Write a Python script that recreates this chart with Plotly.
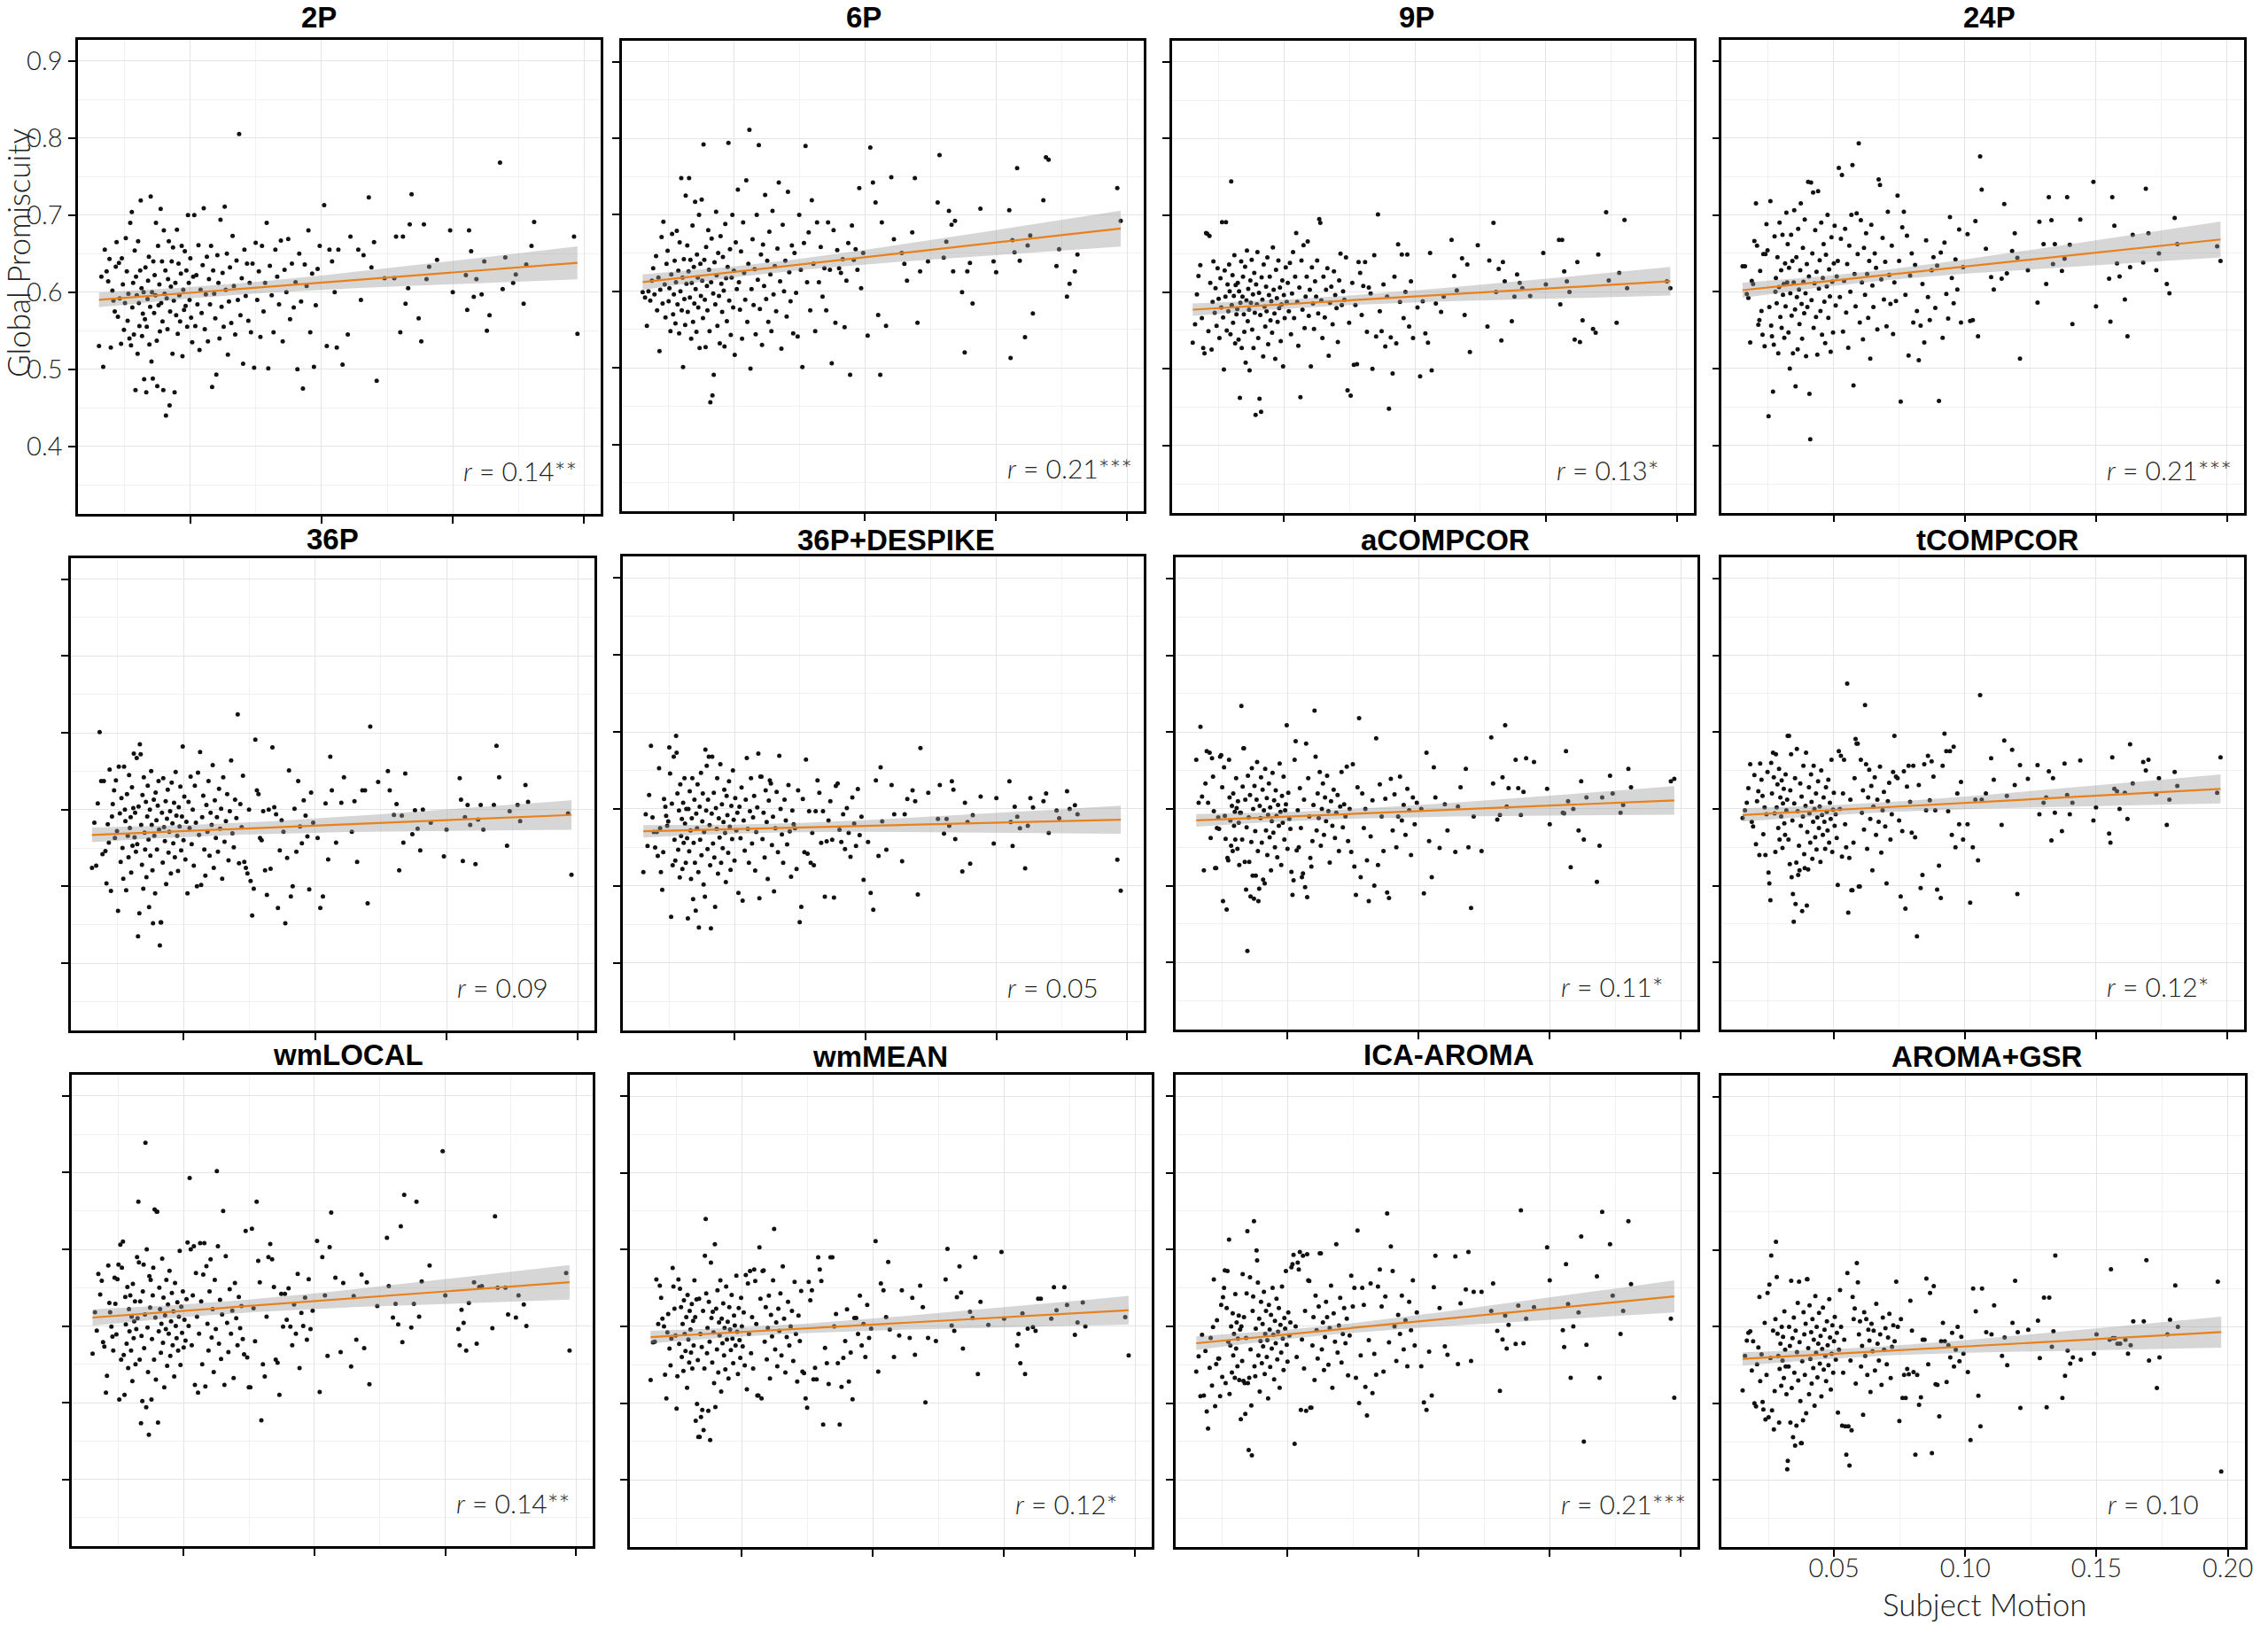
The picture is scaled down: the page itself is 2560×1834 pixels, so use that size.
import numpy as np
import plotly.graph_objects as go

W, H = 2560, 1834

PANELS = ["2P", "6P", "9P", "24P", "36P", "36P+DESPIKE", "aCOMPCOR", "tCOMPCOR",
          "wmLOCAL", "wmMEAN", "ICA-AROMA", "AROMA+GSR"]
R_LABELS = ["0.14**", "0.21***", "0.13*", "0.21***", "0.09", "0.05", "0.11*", "0.12*",
            "0.14**", "0.12*", "0.21***", "0.10"]

# Subject motion (shared by all pipelines), in x-order groups
MOTION_A = [0.0152, 0.0161, 0.0168, 0.0174, 0.0181, 0.0187, 0.0192, 0.0197, 0.0203, 0.0207,
            0.0212, 0.0216, 0.0219, 0.0224, 0.0228, 0.0231, 0.0236, 0.0239, 0.0243, 0.0247,
            0.0251, 0.0254, 0.0258, 0.0261, 0.0264, 0.0268, 0.0271, 0.0274, 0.0277, 0.0279,
            0.0282, 0.0285, 0.0288, 0.0291, 0.0293, 0.0296, 0.0299, 0.0301, 0.0304, 0.0306,
            0.0309, 0.0311, 0.0314, 0.0316, 0.0319]
MOTION_B = [0.0322, 0.0324, 0.0327, 0.0329, 0.0332, 0.0334, 0.0337, 0.0339, 0.0342, 0.0344,
            0.0347, 0.0349, 0.0352, 0.0354, 0.0357, 0.0359, 0.0362, 0.0364, 0.0367, 0.0369,
            0.0372, 0.0374, 0.0377, 0.0379, 0.0382, 0.0384, 0.0387, 0.0389, 0.0392, 0.0394,
            0.0397, 0.0399, 0.0402, 0.0405, 0.0407, 0.0410, 0.0413, 0.0415, 0.0418, 0.0421,
            0.0423, 0.0426, 0.0429, 0.0432, 0.0434, 0.0437, 0.0440, 0.0443, 0.0446, 0.0449,
            0.0452, 0.0455, 0.0458, 0.0461, 0.0464, 0.0467, 0.0470, 0.0473, 0.0476, 0.0479,
            0.0482, 0.0485, 0.0488, 0.0491, 0.0494, 0.0497, 0.0500, 0.0503, 0.0507, 0.0511]
MOTION_C = [0.0515, 0.0519, 0.0523, 0.0527, 0.0531, 0.0535, 0.0539, 0.0543, 0.0547, 0.0551,
            0.0555, 0.0559, 0.0563, 0.0567, 0.0571, 0.0575, 0.0579, 0.0583, 0.0587, 0.0591,
            0.0595, 0.0599, 0.0603, 0.0607, 0.0611, 0.0615, 0.0619, 0.0623, 0.0627, 0.0631,
            0.0635, 0.0639, 0.0643, 0.0647, 0.0651, 0.0656, 0.0661, 0.0666, 0.0671, 0.0676,
            0.0681, 0.0686, 0.0691, 0.0696, 0.0701, 0.0706, 0.0711, 0.0716, 0.0721, 0.0726]
MOTION_D = [0.0731, 0.0737, 0.0743, 0.0749, 0.0755, 0.0761, 0.0767, 0.0773, 0.0779, 0.0785,
            0.0791, 0.0797, 0.0803, 0.0810, 0.0817, 0.0824, 0.0831, 0.0838, 0.0845, 0.0852,
            0.0859, 0.0866, 0.0873, 0.0880, 0.0887, 0.0894, 0.0901, 0.0908, 0.0915, 0.0922,
            0.0929, 0.0936, 0.0943, 0.0950, 0.0957, 0.0964, 0.0971, 0.0978, 0.0985, 0.0993]
MOTION_E = [0.1010, 0.1020, 0.1030, 0.1040, 0.1050, 0.1058, 0.1064, 0.1080, 0.1100, 0.1110,
            0.1140, 0.1150, 0.1160, 0.1180, 0.1190, 0.1200, 0.1210, 0.1240, 0.1277, 0.1284,
            0.1300, 0.1310, 0.1320, 0.1330, 0.1336, 0.1343, 0.1370, 0.1380, 0.1390, 0.1400,
            0.1410, 0.1440, 0.1490, 0.1500, 0.1550]
MOTION_F = [0.1555, 0.1562, 0.1570, 0.1580, 0.1590, 0.1610, 0.1620, 0.1630, 0.1640, 0.1680,
            0.1690, 0.1700, 0.1730, 0.1740, 0.1770, 0.1780, 0.1800, 0.1810, 0.1962, 0.1975]
MOTION_GROUPS = [MOTION_A, MOTION_B, MOTION_C, MOTION_D, MOTION_E, MOTION_F]

# Global promiscuity per pipeline, same group order as motion
GP_2P = [
    [0.530, 0.620, 0.503, 0.655, 0.627, 0.614, 0.643, 0.528, 0.602, 0.589, 0.575, 0.633, 0.665, 0.568, 0.638, 0.592, 0.533, 0.644, 0.610, 0.551, 0.586, 0.670, 0.627, 0.563, 0.598, 0.540, 0.690, 0.531, 0.704, 0.580, 0.612, 0.545, 0.654, 0.473, 0.620, 0.596, 0.520, 0.666, 0.586, 0.556, 0.628, 0.719, 0.605, 0.543, 0.572],
    [0.600, 0.487, 0.565, 0.632, 0.470, 0.555, 0.591, 0.615, 0.646, 0.532, 0.581, 0.724, 0.510, 0.600, 0.488, 0.640, 0.573, 0.622, 0.596, 0.690, 0.537, 0.478, 0.660, 0.583, 0.610, 0.549, 0.708, 0.586, 0.640, 0.562, 0.473, 0.680, 0.598, 0.628, 0.440, 0.592, 0.552, 0.617, 0.666, 0.453, 0.575, 0.607, 0.640, 0.520, 0.658, 0.589, 0.470, 0.612, 0.570, 0.681, 0.546, 0.637, 0.596, 0.562, 0.624, 0.660, 0.517, 0.603, 0.577, 0.653, 0.582, 0.628, 0.555, 0.700, 0.612, 0.590, 0.644, 0.567, 0.535, 0.620],
    [0.700, 0.556, 0.622, 0.584, 0.661, 0.525, 0.603, 0.573, 0.635, 0.709, 0.552, 0.597, 0.646, 0.536, 0.617, 0.584, 0.660, 0.477, 0.628, 0.598, 0.566, 0.493, 0.648, 0.612, 0.540, 0.694, 0.581, 0.625, 0.555, 0.711, 0.603, 0.650, 0.519, 0.588, 0.632, 0.560, 0.673, 0.608, 0.545, 0.641, 0.590, 0.805, 0.570, 0.618, 0.507, 0.655, 0.595, 0.637, 0.563, 0.612],
    [0.548, 0.637, 0.502, 0.664, 0.590, 0.627, 0.542, 0.660, 0.575, 0.612, 0.690, 0.501, 0.634, 0.596, 0.548, 0.655, 0.620, 0.584, 0.667, 0.536, 0.629, 0.600, 0.669, 0.565, 0.637, 0.580, 0.613, 0.500, 0.650, 0.588, 0.475, 0.636, 0.608, 0.680, 0.548, 0.624, 0.503, 0.583, 0.630, 0.660],
    [0.713, 0.530, 0.655, 0.640, 0.600, 0.528, 0.655, 0.506, 0.545, 0.672, 0.655, 0.590, 0.648, 0.723, 0.632, 0.665, 0.485, 0.618, 0.618, 0.672, 0.548, 0.672, 0.585, 0.605, 0.688, 0.727, 0.566, 0.536, 0.688, 0.617, 0.633, 0.642, 0.680, 0.600, 0.622],
    [0.577, 0.680, 0.653, 0.594, 0.617, 0.597, 0.640, 0.550, 0.570, 0.768, 0.604, 0.645, 0.612, 0.623, 0.585, 0.636, 0.660, 0.691, 0.672, 0.546],
]
GP_6P = [
    [0.599, 0.592, 0.555, 0.600, 0.588, 0.614, 0.630, 0.596, 0.646, 0.575, 0.618, 0.522, 0.602, 0.671, 0.584, 0.691, 0.609, 0.566, 0.636, 0.653, 0.587, 0.604, 0.548, 0.622, 0.675, 0.570, 0.596, 0.640, 0.558, 0.612, 0.679, 0.583, 0.627, 0.545, 0.664, 0.600, 0.748, 0.575, 0.618, 0.501, 0.642, 0.590, 0.556, 0.725, 0.610],
    [0.660, 0.573, 0.626, 0.748, 0.592, 0.641, 0.538, 0.611, 0.686, 0.560, 0.632, 0.584, 0.717, 0.603, 0.547, 0.648, 0.618, 0.579, 0.700, 0.526, 0.636, 0.594, 0.720, 0.614, 0.565, 0.792, 0.641, 0.589, 0.527, 0.658, 0.607, 0.575, 0.680, 0.628, 0.548, 0.455, 0.612, 0.669, 0.464, 0.597, 0.491, 0.638, 0.583, 0.704, 0.621, 0.555, 0.650, 0.594, 0.532, 0.672, 0.610, 0.573, 0.645, 0.601, 0.528, 0.688, 0.617, 0.561, 0.632, 0.794, 0.588, 0.655, 0.543, 0.618, 0.700, 0.579, 0.627, 0.517, 0.664, 0.603],
    [0.733, 0.612, 0.576, 0.652, 0.538, 0.690, 0.624, 0.589, 0.745, 0.560, 0.636, 0.811, 0.499, 0.603, 0.668, 0.582, 0.629, 0.544, 0.700, 0.615, 0.791, 0.577, 0.648, 0.530, 0.661, 0.607, 0.726, 0.590, 0.640, 0.560, 0.678, 0.622, 0.548, 0.705, 0.596, 0.633, 0.574, 0.656, 0.742, 0.613, 0.525, 0.687, 0.600, 0.640, 0.567, 0.730, 0.625, 0.587, 0.660, 0.545],
    [0.650, 0.598, 0.541, 0.700, 0.628, 0.501, 0.663, 0.790, 0.612, 0.677, 0.575, 0.719, 0.636, 0.548, 0.690, 0.612, 0.658, 0.593, 0.630, 0.575, 0.690, 0.628, 0.506, 0.680, 0.559, 0.654, 0.630, 0.624, 0.642, 0.553, 0.614, 0.663, 0.491, 0.686, 0.641, 0.655, 0.628, 0.735, 0.604, 0.650],
    [0.542, 0.788, 0.742, 0.716, 0.569, 0.491, 0.690, 0.555, 0.749, 0.668, 0.650, 0.636, 0.614, 0.677, 0.748, 0.559, 0.626, 0.639, 0.716, 0.778, 0.644, 0.665, 0.705, 0.687, 0.626, 0.692, 0.599, 0.520, 0.626, 0.637, 0.584, 0.708, 0.639, 0.625, 0.706],
    [0.513, 0.667, 0.651, 0.761, 0.640, 0.540, 0.660, 0.673, 0.571, 0.719, 0.775, 0.772, 0.633, 0.655, 0.593, 0.610, 0.626, 0.648, 0.735, 0.692],
]
GP_9P = [
    [0.534, 0.558, 0.597, 0.621, 0.635, 0.566, 0.527, 0.520, 0.677, 0.676, 0.549, 0.673, 0.612, 0.525, 0.587, 0.640, 0.573, 0.605, 0.556, 0.631, 0.591, 0.540, 0.618, 0.580, 0.691, 0.567, 0.499, 0.628, 0.594, 0.691, 0.550, 0.610, 0.575, 0.636, 0.601, 0.545, 0.744, 0.583, 0.622, 0.560, 0.595, 0.648, 0.533, 0.609, 0.571],
    [0.578, 0.612, 0.538, 0.601, 0.462, 0.586, 0.640, 0.527, 0.594, 0.620, 0.571, 0.548, 0.633, 0.508, 0.589, 0.654, 0.562, 0.604, 0.577, 0.498, 0.615, 0.586, 0.642, 0.551, 0.597, 0.527, 0.625, 0.573, 0.440, 0.610, 0.584, 0.652, 0.540, 0.599, 0.461, 0.570, 0.444, 0.619, 0.590, 0.516, 0.636, 0.581, 0.555, 0.607, 0.575, 0.645, 0.532, 0.596, 0.620, 0.563, 0.588, 0.547, 0.658, 0.603, 0.572, 0.513, 0.629, 0.592, 0.561, 0.641, 0.579, 0.606, 0.536, 0.584, 0.615, 0.503, 0.596, 0.566, 0.632, 0.587],
    [0.612, 0.575, 0.638, 0.545, 0.598, 0.652, 0.566, 0.620, 0.677, 0.587, 0.530, 0.606, 0.463, 0.641, 0.577, 0.661, 0.553, 0.594, 0.620, 0.666, 0.569, 0.603, 0.503, 0.632, 0.585, 0.552, 0.614, 0.594, 0.641, 0.572, 0.695, 0.690, 0.589, 0.540, 0.620, 0.567, 0.603, 0.631, 0.517, 0.586, 0.607, 0.558, 0.627, 0.596, 0.579, 0.535, 0.615, 0.650, 0.583, 0.601],
    [0.590, 0.645, 0.472, 0.560, 0.465, 0.612, 0.505, 0.583, 0.506, 0.639, 0.625, 0.570, 0.608, 0.639, 0.548, 0.606, 0.598, 0.500, 0.648, 0.542, 0.701, 0.575, 0.549, 0.610, 0.529, 0.594, 0.448, 0.541, 0.494, 0.620, 0.533, 0.662, 0.587, 0.649, 0.566, 0.600, 0.649, 0.555, 0.614, 0.540],
    [0.580, 0.490, 0.588, 0.546, 0.534, 0.651, 0.498, 0.585, 0.574, 0.594, 0.668, 0.621, 0.602, 0.644, 0.570, 0.636, 0.522, 0.661, 0.555, 0.641, 0.690, 0.600, 0.630, 0.537, 0.639, 0.614, 0.562, 0.594, 0.623, 0.612, 0.605, 0.595, 0.651, 0.610, 0.668],
    [0.584, 0.668, 0.627, 0.614, 0.600, 0.538, 0.639, 0.535, 0.563, 0.552, 0.547, 0.649, 0.704, 0.615, 0.560, 0.625, 0.694, 0.605, 0.614, 0.605],
]
GP_24P = [
    [0.633, 0.633, 0.597, 0.592, 0.534, 0.614, 0.610, 0.666, 0.715, 0.660, 0.557, 0.563, 0.627, 0.575, 0.544, 0.649, 0.529, 0.649, 0.688, 0.654, 0.438, 0.580, 0.718, 0.556, 0.542, 0.470, 0.531, 0.672, 0.600, 0.618, 0.585, 0.645, 0.520, 0.606, 0.690, 0.567, 0.628, 0.553, 0.674, 0.596, 0.610, 0.540, 0.637, 0.581, 0.703],
    [0.612, 0.662, 0.547, 0.631, 0.500, 0.598, 0.674, 0.569, 0.640, 0.520, 0.612, 0.706, 0.577, 0.477, 0.645, 0.593, 0.525, 0.682, 0.603, 0.558, 0.628, 0.715, 0.584, 0.539, 0.657, 0.613, 0.572, 0.694, 0.598, 0.516, 0.636, 0.580, 0.743, 0.620, 0.467, 0.408, 0.742, 0.589, 0.650, 0.729, 0.553, 0.611, 0.680, 0.567, 0.626, 0.518, 0.731, 0.604, 0.641, 0.575, 0.690, 0.544, 0.618, 0.662, 0.587, 0.533, 0.648, 0.607, 0.700, 0.566, 0.629, 0.594, 0.522, 0.671, 0.613, 0.547, 0.637, 0.686, 0.582, 0.620],
    [0.640, 0.761, 0.593, 0.669, 0.752, 0.548, 0.614, 0.682, 0.573, 0.636, 0.527, 0.660, 0.600, 0.700, 0.765, 0.478, 0.623, 0.581, 0.702, 0.649, 0.793, 0.560, 0.693, 0.612, 0.538, 0.657, 0.596, 0.676, 0.623, 0.566, 0.640, 0.513, 0.687, 0.608, 0.580, 0.650, 0.631, 0.551, 0.746, 0.739, 0.616, 0.670, 0.590, 0.639, 0.555, 0.704, 0.622, 0.584, 0.660, 0.545],
    [0.612, 0.588, 0.725, 0.640, 0.457, 0.684, 0.704, 0.596, 0.673, 0.517, 0.621, 0.650, 0.560, 0.635, 0.575, 0.511, 0.556, 0.610, 0.534, 0.667, 0.593, 0.563, 0.628, 0.645, 0.579, 0.634, 0.458, 0.651, 0.540, 0.664, 0.597, 0.565, 0.697, 0.618, 0.585, 0.642, 0.603, 0.681, 0.560, 0.632],
    [0.675, 0.562, 0.563, 0.692, 0.542, 0.776, 0.733, 0.656, 0.619, 0.603, 0.617, 0.714, 0.624, 0.653, 0.676, 0.644, 0.513, 0.628, 0.586, 0.691, 0.662, 0.610, 0.723, 0.693, 0.636, 0.662, 0.627, 0.643, 0.723, 0.661, 0.558, 0.694, 0.743, 0.581, 0.617],
    [0.561, 0.723, 0.686, 0.637, 0.620, 0.590, 0.542, 0.632, 0.674, 0.638, 0.734, 0.676, 0.628, 0.650, 0.610, 0.598, 0.696, 0.662, 0.659, 0.640],
]
GP_36P = [
    [0.524, 0.583, 0.527, 0.608, 0.701, 0.637, 0.542, 0.637, 0.546, 0.504, 0.581, 0.557, 0.652, 0.494, 0.591, 0.607, 0.625, 0.563, 0.638, 0.572, 0.468, 0.656, 0.595, 0.532, 0.615, 0.550, 0.510, 0.656, 0.600, 0.585, 0.495, 0.620, 0.566, 0.538, 0.645, 0.576, 0.590, 0.518, 0.629, 0.553, 0.602, 0.673, 0.564, 0.596, 0.545],
    [0.667, 0.555, 0.435, 0.604, 0.465, 0.685, 0.672, 0.580, 0.528, 0.619, 0.497, 0.642, 0.570, 0.548, 0.610, 0.512, 0.591, 0.631, 0.561, 0.473, 0.600, 0.540, 0.650, 0.580, 0.521, 0.452, 0.613, 0.566, 0.491, 0.622, 0.586, 0.548, 0.605, 0.637, 0.574, 0.423, 0.453, 0.453, 0.596, 0.531, 0.641, 0.577, 0.559, 0.611, 0.503, 0.588, 0.626, 0.544, 0.571, 0.598, 0.517, 0.635, 0.582, 0.556, 0.609, 0.538, 0.649, 0.592, 0.566, 0.520, 0.603, 0.578, 0.630, 0.547, 0.591, 0.682, 0.560, 0.617, 0.535, 0.584],
    [0.491, 0.610, 0.576, 0.643, 0.555, 0.600, 0.527, 0.631, 0.583, 0.500, 0.648, 0.567, 0.675, 0.502, 0.590, 0.618, 0.548, 0.514, 0.606, 0.571, 0.637, 0.540, 0.596, 0.580, 0.658, 0.524, 0.612, 0.563, 0.590, 0.545, 0.627, 0.575, 0.601, 0.510, 0.642, 0.558, 0.585, 0.620, 0.534, 0.598, 0.664, 0.569, 0.551, 0.613, 0.589, 0.724, 0.530, 0.607, 0.577, 0.644],
    [0.532, 0.524, 0.517, 0.600, 0.507, 0.462, 0.497, 0.691, 0.625, 0.620, 0.563, 0.560, 0.598, 0.521, 0.489, 0.600, 0.523, 0.681, 0.603, 0.594, 0.472, 0.547, 0.586, 0.571, 0.452, 0.537, 0.651, 0.487, 0.500, 0.601, 0.545, 0.637, 0.578, 0.556, 0.612, 0.592, 0.565, 0.496, 0.622, 0.583],
    [0.563, 0.472, 0.487, 0.608, 0.535, 0.669, 0.625, 0.557, 0.609, 0.642, 0.571, 0.611, 0.532, 0.625, 0.625, 0.478, 0.708, 0.636, 0.650, 0.625, 0.593, 0.607, 0.521, 0.592, 0.557, 0.647, 0.568, 0.599, 0.575, 0.547, 0.600, 0.583, 0.539, 0.574, 0.641],
    [0.613, 0.533, 0.590, 0.606, 0.580, 0.529, 0.587, 0.606, 0.574, 0.606, 0.683, 0.642, 0.553, 0.598, 0.606, 0.585, 0.632, 0.610, 0.595, 0.515],
]
GP_36P_DESPIKE = [
    [0.518, 0.593, 0.552, 0.618, 0.682, 0.589, 0.570, 0.550, 0.570, 0.539, 0.653, 0.575, 0.518, 0.495, 0.544, 0.613, 0.603, 0.591, 0.578, 0.584, 0.680, 0.646, 0.460, 0.607, 0.527, 0.668, 0.560, 0.533, 0.695, 0.673, 0.620, 0.547, 0.598, 0.511, 0.632, 0.565, 0.587, 0.522, 0.608, 0.556, 0.640, 0.581, 0.530, 0.600, 0.562],
    [0.458, 0.600, 0.545, 0.623, 0.572, 0.509, 0.588, 0.640, 0.483, 0.556, 0.612, 0.530, 0.468, 0.594, 0.575, 0.632, 0.518, 0.446, 0.603, 0.560, 0.647, 0.540, 0.584, 0.620, 0.502, 0.570, 0.486, 0.677, 0.598, 0.656, 0.548, 0.612, 0.668, 0.579, 0.527, 0.445, 0.594, 0.668, 0.555, 0.621, 0.537, 0.473, 0.601, 0.574, 0.640, 0.516, 0.588, 0.563, 0.658, 0.530, 0.606, 0.549, 0.583, 0.625, 0.569, 0.505, 0.617, 0.592, 0.543, 0.636, 0.577, 0.521, 0.604, 0.561, 0.650, 0.586, 0.533, 0.614, 0.572, 0.595],
    [0.491, 0.603, 0.562, 0.628, 0.481, 0.585, 0.546, 0.612, 0.666, 0.574, 0.530, 0.597, 0.640, 0.555, 0.589, 0.617, 0.520, 0.570, 0.602, 0.672, 0.484, 0.642, 0.642, 0.561, 0.595, 0.537, 0.624, 0.583, 0.509, 0.611, 0.637, 0.633, 0.553, 0.590, 0.493, 0.575, 0.622, 0.544, 0.669, 0.600, 0.567, 0.530, 0.612, 0.585, 0.554, 0.631, 0.571, 0.512, 0.598, 0.580],
    [0.575, 0.522, 0.624, 0.453, 0.473, 0.613, 0.544, 0.664, 0.542, 0.597, 0.530, 0.569, 0.527, 0.597, 0.637, 0.621, 0.556, 0.597, 0.486, 0.558, 0.585, 0.610, 0.560, 0.485, 0.630, 0.633, 0.573, 0.557, 0.593, 0.548, 0.601, 0.569, 0.538, 0.615, 0.581, 0.552, 0.626, 0.566, 0.590, 0.508],
    [0.557, 0.491, 0.469, 0.637, 0.539, 0.654, 0.584, 0.547, 0.631, 0.593, 0.532, 0.593, 0.613, 0.624, 0.610, 0.489, 0.679, 0.621, 0.587, 0.631, 0.568, 0.587, 0.578, 0.636, 0.625, 0.561, 0.519, 0.608, 0.583, 0.529, 0.592, 0.616, 0.555, 0.614, 0.636],
    [0.583, 0.552, 0.603, 0.590, 0.575, 0.523, 0.578, 0.614, 0.602, 0.610, 0.620, 0.569, 0.598, 0.588, 0.623, 0.600, 0.605, 0.593, 0.534, 0.494],
]
GP_ACOMPCOR = [
    [0.664, 0.608, 0.707, 0.616, 0.520, 0.633, 0.675, 0.608, 0.673, 0.562, 0.666, 0.642, 0.597, 0.523, 0.523, 0.575, 0.589, 0.574, 0.668, 0.670, 0.628, 0.480, 0.654, 0.591, 0.561, 0.469, 0.536, 0.533, 0.664, 0.615, 0.585, 0.552, 0.604, 0.545, 0.620, 0.578, 0.596, 0.560, 0.640, 0.601, 0.548, 0.610, 0.582, 0.527, 0.595],
    [0.595, 0.734, 0.560, 0.629, 0.679, 0.679, 0.531, 0.612, 0.495, 0.576, 0.415, 0.643, 0.589, 0.531, 0.618, 0.486, 0.557, 0.653, 0.513, 0.600, 0.483, 0.630, 0.571, 0.513, 0.612, 0.661, 0.545, 0.480, 0.496, 0.604, 0.588, 0.641, 0.556, 0.625, 0.508, 0.598, 0.503, 0.652, 0.572, 0.614, 0.540, 0.592, 0.633, 0.563, 0.602, 0.520, 0.584, 0.647, 0.569, 0.611, 0.550, 0.624, 0.591, 0.537, 0.605, 0.578, 0.659, 0.596, 0.527, 0.617, 0.582, 0.642, 0.560, 0.598, 0.606, 0.709, 0.548, 0.621, 0.587, 0.574],
    [0.518, 0.488, 0.507, 0.664, 0.688, 0.546, 0.598, 0.550, 0.627, 0.575, 0.511, 0.516, 0.612, 0.498, 0.685, 0.485, 0.640, 0.590, 0.536, 0.525, 0.558, 0.605, 0.728, 0.668, 0.572, 0.620, 0.588, 0.648, 0.552, 0.600, 0.633, 0.566, 0.615, 0.584, 0.643, 0.597, 0.530, 0.610, 0.578, 0.625, 0.562, 0.595, 0.618, 0.545, 0.603, 0.648, 0.576, 0.606, 0.590, 0.655],
    [0.558, 0.600, 0.544, 0.658, 0.525, 0.488, 0.628, 0.718, 0.511, 0.620, 0.575, 0.600, 0.533, 0.480, 0.564, 0.611, 0.500, 0.692, 0.527, 0.632, 0.590, 0.545, 0.613, 0.491, 0.484, 0.639, 0.572, 0.619, 0.550, 0.590, 0.642, 0.585, 0.605, 0.566, 0.626, 0.598, 0.540, 0.615, 0.580, 0.608],
    [0.600, 0.490, 0.673, 0.558, 0.511, 0.654, 0.615, 0.549, 0.606, 0.572, 0.544, 0.603, 0.628, 0.652, 0.550, 0.471, 0.590, 0.545, 0.693, 0.633, 0.586, 0.592, 0.641, 0.709, 0.603, 0.627, 0.664, 0.627, 0.592, 0.622, 0.666, 0.661, 0.626, 0.580, 0.595],
    [0.594, 0.675, 0.610, 0.524, 0.600, 0.572, 0.636, 0.560, 0.615, 0.505, 0.552, 0.615, 0.643, 0.620, 0.595, 0.605, 0.652, 0.628, 0.636, 0.639],
]
GP_TCOMPCOR = [
    [0.588, 0.598, 0.608, 0.627, 0.658, 0.583, 0.577, 0.644, 0.554, 0.610, 0.623, 0.540, 0.659, 0.638, 0.617, 0.567, 0.602, 0.540, 0.593, 0.648, 0.517, 0.503, 0.481, 0.660, 0.620, 0.673, 0.641, 0.594, 0.544, 0.671, 0.602, 0.632, 0.575, 0.652, 0.560, 0.615, 0.590, 0.637, 0.549, 0.607, 0.626, 0.581, 0.566, 0.645, 0.598],
    [0.612, 0.695, 0.560, 0.695, 0.528, 0.624, 0.671, 0.511, 0.585, 0.489, 0.453, 0.607, 0.640, 0.476, 0.530, 0.678, 0.597, 0.514, 0.552, 0.520, 0.633, 0.578, 0.616, 0.467, 0.590, 0.656, 0.541, 0.523, 0.604, 0.673, 0.474, 0.570, 0.521, 0.628, 0.594, 0.556, 0.645, 0.609, 0.535, 0.583, 0.656, 0.600, 0.563, 0.620, 0.547, 0.589, 0.636, 0.575, 0.603, 0.531, 0.650, 0.592, 0.566, 0.615, 0.583, 0.548, 0.628, 0.596, 0.572, 0.638, 0.556, 0.608, 0.587, 0.664, 0.544, 0.599, 0.621, 0.578, 0.593, 0.562],
    [0.501, 0.675, 0.600, 0.669, 0.538, 0.620, 0.664, 0.580, 0.550, 0.763, 0.465, 0.536, 0.612, 0.494, 0.494, 0.556, 0.640, 0.691, 0.685, 0.685, 0.499, 0.499, 0.664, 0.595, 0.624, 0.573, 0.735, 0.658, 0.548, 0.615, 0.651, 0.587, 0.630, 0.520, 0.603, 0.641, 0.566, 0.612, 0.583, 0.655, 0.543, 0.598, 0.622, 0.577, 0.503, 0.610, 0.634, 0.560, 0.593, 0.648],
    [0.695, 0.642, 0.640, 0.585, 0.486, 0.571, 0.649, 0.470, 0.629, 0.656, 0.609, 0.569, 0.656, 0.563, 0.434, 0.631, 0.497, 0.514, 0.658, 0.598, 0.669, 0.611, 0.662, 0.642, 0.598, 0.495, 0.526, 0.484, 0.656, 0.698, 0.675, 0.597, 0.675, 0.566, 0.681, 0.550, 0.620, 0.580, 0.635, 0.560],
    [0.580, 0.478, 0.550, 0.612, 0.533, 0.748, 0.612, 0.620, 0.666, 0.638, 0.579, 0.689, 0.617, 0.677, 0.631, 0.489, 0.657, 0.639, 0.657, 0.593, 0.608, 0.615, 0.649, 0.559, 0.640, 0.595, 0.571, 0.659, 0.618, 0.593, 0.608, 0.663, 0.585, 0.602, 0.568],
    [0.556, 0.667, 0.626, 0.623, 0.600, 0.621, 0.587, 0.684, 0.633, 0.661, 0.650, 0.664, 0.619, 0.640, 0.579, 0.612, 0.648, 0.630, 0.621, 0.667],
]
GP_WMLOCAL = [
    [0.564, 0.618, 0.594, 0.668, 0.641, 0.659, 0.579, 0.573, 0.513, 0.535, 0.679, 0.630, 0.618, 0.599, 0.586, 0.568, 0.663, 0.629, 0.589, 0.661, 0.680, 0.504, 0.706, 0.556, 0.676, 0.710, 0.562, 0.510, 0.638, 0.602, 0.577, 0.651, 0.545, 0.622, 0.593, 0.640, 0.568, 0.612, 0.528, 0.655, 0.584, 0.606, 0.632, 0.550, 0.596],
    [0.690, 0.610, 0.762, 0.683, 0.556, 0.632, 0.473, 0.587, 0.502, 0.645, 0.680, 0.571, 0.615, 0.839, 0.494, 0.700, 0.598, 0.540, 0.458, 0.665, 0.624, 0.660, 0.504, 0.583, 0.640, 0.676, 0.556, 0.752, 0.611, 0.530, 0.749, 0.749, 0.474, 0.593, 0.650, 0.622, 0.565, 0.603, 0.688, 0.578, 0.637, 0.520, 0.614, 0.596, 0.660, 0.548, 0.628, 0.590, 0.672, 0.561, 0.606, 0.643, 0.575, 0.619, 0.534, 0.656, 0.600, 0.584, 0.631, 0.568, 0.612, 0.698, 0.549, 0.625, 0.591, 0.645, 0.572, 0.608, 0.581, 0.635],
    [0.709, 0.600, 0.793, 0.700, 0.575, 0.640, 0.704, 0.523, 0.669, 0.612, 0.513, 0.590, 0.708, 0.632, 0.550, 0.667, 0.708, 0.521, 0.678, 0.603, 0.568, 0.645, 0.687, 0.585, 0.622, 0.540, 0.660, 0.596, 0.802, 0.704, 0.577, 0.634, 0.557, 0.615, 0.750, 0.523, 0.691, 0.604, 0.566, 0.648, 0.590, 0.620, 0.532, 0.656, 0.610, 0.575, 0.638, 0.597, 0.626, 0.583],
    [0.563, 0.724, 0.559, 0.520, 0.520, 0.727, 0.623, 0.580, 0.762, 0.685, 0.657, 0.477, 0.550, 0.534, 0.612, 0.690, 0.707, 0.687, 0.651, 0.556, 0.552, 0.510, 0.642, 0.599, 0.642, 0.608, 0.649, 0.599, 0.575, 0.628, 0.590, 0.668, 0.545, 0.617, 0.600, 0.637, 0.582, 0.661, 0.596, 0.620],
    [0.711, 0.514, 0.690, 0.640, 0.561, 0.703, 0.748, 0.663, 0.566, 0.656, 0.547, 0.639, 0.582, 0.667, 0.571, 0.657, 0.524, 0.626, 0.715, 0.652, 0.611, 0.629, 0.602, 0.730, 0.579, 0.771, 0.598, 0.629, 0.762, 0.612, 0.658, 0.679, 0.828, 0.640, 0.596],
    [0.575, 0.621, 0.604, 0.568, 0.630, 0.657, 0.577, 0.651, 0.652, 0.597, 0.743, 0.650, 0.650, 0.615, 0.611, 0.640, 0.628, 0.600, 0.669, 0.568],
]
GP_WMMEAN = [
    [0.530, 0.579, 0.580, 0.661, 0.603, 0.653, 0.637, 0.610, 0.600, 0.537, 0.506, 0.592, 0.616, 0.571, 0.549, 0.584, 0.676, 0.652, 0.623, 0.588, 0.493, 0.535, 0.661, 0.577, 0.649, 0.625, 0.560, 0.603, 0.542, 0.634, 0.590, 0.568, 0.612, 0.520, 0.641, 0.583, 0.553, 0.620, 0.596, 0.566, 0.629, 0.545, 0.607, 0.575, 0.660],
    [0.612, 0.477, 0.635, 0.499, 0.556, 0.456, 0.636, 0.456, 0.590, 0.482, 0.573, 0.491, 0.620, 0.465, 0.545, 0.692, 0.740, 0.643, 0.565, 0.598, 0.490, 0.632, 0.580, 0.452, 0.683, 0.611, 0.553, 0.619, 0.592, 0.526, 0.707, 0.495, 0.623, 0.570, 0.647, 0.540, 0.605, 0.588, 0.660, 0.515, 0.610, 0.578, 0.630, 0.562, 0.598, 0.544, 0.652, 0.583, 0.606, 0.532, 0.625, 0.596, 0.569, 0.641, 0.584, 0.552, 0.614, 0.601, 0.575, 0.666, 0.593, 0.538, 0.624, 0.582, 0.559, 0.637, 0.600, 0.574, 0.618, 0.549],
    [0.667, 0.518, 0.656, 0.590, 0.672, 0.565, 0.612, 0.545, 0.674, 0.659, 0.603, 0.510, 0.510, 0.703, 0.636, 0.506, 0.672, 0.673, 0.580, 0.625, 0.557, 0.598, 0.640, 0.532, 0.615, 0.587, 0.660, 0.727, 0.570, 0.605, 0.548, 0.623, 0.594, 0.643, 0.562, 0.678, 0.610, 0.540, 0.586, 0.632, 0.575, 0.600, 0.620, 0.555, 0.658, 0.590, 0.528, 0.614, 0.581, 0.646],
    [0.541, 0.539, 0.506, 0.494, 0.658, 0.634, 0.647, 0.531, 0.546, 0.531, 0.690, 0.674, 0.659, 0.472, 0.572, 0.552, 0.525, 0.690, 0.690, 0.600, 0.616, 0.552, 0.472, 0.521, 0.559, 0.581, 0.622, 0.528, 0.566, 0.505, 0.611, 0.611, 0.590, 0.640, 0.575, 0.603, 0.560, 0.628, 0.585, 0.597],
    [0.711, 0.541, 0.656, 0.647, 0.612, 0.684, 0.596, 0.560, 0.588, 0.647, 0.585, 0.637, 0.563, 0.653, 0.625, 0.501, 0.585, 0.581, 0.661, 0.701, 0.601, 0.594, 0.638, 0.678, 0.644, 0.571, 0.619, 0.611, 0.690, 0.538, 0.632, 0.602, 0.697, 0.610, 0.575],
    [0.590, 0.552, 0.617, 0.538, 0.597, 0.599, 0.594, 0.636, 0.636, 0.610, 0.651, 0.621, 0.651, 0.628, 0.589, 0.605, 0.631, 0.600, 0.612, 0.562],
]
GP_ICA_AROMA = [
    [0.541, 0.561, 0.509, 0.589, 0.510, 0.568, 0.489, 0.467, 0.546, 0.585, 0.523, 0.599, 0.661, 0.496, 0.551, 0.608, 0.558, 0.558, 0.509, 0.628, 0.534, 0.638, 0.650, 0.673, 0.526, 0.624, 0.672, 0.580, 0.713, 0.512, 0.575, 0.600, 0.540, 0.617, 0.562, 0.590, 0.533, 0.642, 0.571, 0.605, 0.548, 0.584, 0.614, 0.530, 0.596],
    [0.479, 0.600, 0.555, 0.668, 0.529, 0.612, 0.526, 0.486, 0.585, 0.643, 0.724, 0.526, 0.439, 0.533, 0.664, 0.570, 0.497, 0.432, 0.620, 0.639, 0.737, 0.548, 0.535, 0.597, 0.699, 0.686, 0.657, 0.562, 0.610, 0.515, 0.581, 0.632, 0.552, 0.603, 0.574, 0.645, 0.538, 0.590, 0.620, 0.560, 0.582, 0.506, 0.628, 0.596, 0.547, 0.615, 0.571, 0.650, 0.589, 0.531, 0.607, 0.578, 0.636, 0.557, 0.593, 0.624, 0.520, 0.602, 0.566, 0.652, 0.584, 0.543, 0.611, 0.597, 0.672, 0.576, 0.554, 0.618, 0.588, 0.605],
    [0.677, 0.681, 0.693, 0.447, 0.600, 0.560, 0.683, 0.674, 0.697, 0.491, 0.583, 0.692, 0.545, 0.620, 0.490, 0.694, 0.660, 0.659, 0.494, 0.494, 0.575, 0.612, 0.530, 0.640, 0.595, 0.558, 0.626, 0.695, 0.695, 0.570, 0.605, 0.543, 0.586, 0.632, 0.612, 0.550, 0.598, 0.653, 0.520, 0.617, 0.580, 0.707, 0.566, 0.601, 0.637, 0.553, 0.590, 0.624, 0.578, 0.610],
    [0.536, 0.588, 0.666, 0.626, 0.650, 0.533, 0.725, 0.500, 0.562, 0.650, 0.628, 0.521, 0.484, 0.582, 0.656, 0.513, 0.564, 0.537, 0.652, 0.674, 0.626, 0.541, 0.639, 0.747, 0.579, 0.704, 0.672, 0.600, 0.555, 0.615, 0.590, 0.640, 0.570, 0.608, 0.548, 0.632, 0.595, 0.660, 0.575, 0.618],
    [0.548, 0.501, 0.491, 0.567, 0.510, 0.651, 0.692, 0.624, 0.574, 0.563, 0.691, 0.551, 0.630, 0.648, 0.697, 0.555, 0.645, 0.645, 0.620, 0.656, 0.594, 0.516, 0.583, 0.614, 0.571, 0.602, 0.577, 0.627, 0.751, 0.578, 0.610, 0.625, 0.703, 0.660, 0.595],
    [0.573, 0.681, 0.629, 0.533, 0.600, 0.618, 0.717, 0.450, 0.576, 0.665, 0.533, 0.749, 0.707, 0.640, 0.590, 0.620, 0.737, 0.655, 0.610, 0.507],
]
GP_AROMA_GSR = [
    [0.517, 0.562, 0.582, 0.592, 0.594, 0.543, 0.581, 0.500, 0.496, 0.551, 0.573, 0.639, 0.529, 0.564, 0.502, 0.492, 0.605, 0.479, 0.537, 0.644, 0.482, 0.655, 0.559, 0.693, 0.491, 0.595, 0.466, 0.516, 0.610, 0.711, 0.665, 0.591, 0.562, 0.475, 0.545, 0.578, 0.523, 0.600, 0.556, 0.587, 0.533, 0.620, 0.570, 0.548, 0.512],
    [0.414, 0.425, 0.548, 0.600, 0.575, 0.475, 0.660, 0.520, 0.585, 0.456, 0.612, 0.540, 0.445, 0.595, 0.471, 0.567, 0.631, 0.530, 0.659, 0.580, 0.503, 0.448, 0.448, 0.555, 0.478, 0.619, 0.590, 0.537, 0.604, 0.487, 0.662, 0.662, 0.572, 0.512, 0.628, 0.558, 0.593, 0.526, 0.610, 0.546, 0.583, 0.497, 0.640, 0.566, 0.600, 0.534, 0.578, 0.618, 0.552, 0.588, 0.509, 0.571, 0.625, 0.544, 0.596, 0.562, 0.529, 0.607, 0.576, 0.550, 0.636, 0.586, 0.518, 0.565, 0.602, 0.540, 0.581, 0.613, 0.557, 0.592],
    [0.488, 0.570, 0.648, 0.600, 0.471, 0.540, 0.583, 0.470, 0.433, 0.670, 0.470, 0.419, 0.556, 0.465, 0.639, 0.610, 0.624, 0.526, 0.683, 0.658, 0.590, 0.607, 0.548, 0.575, 0.485, 0.619, 0.562, 0.610, 0.537, 0.596, 0.582, 0.515, 0.604, 0.568, 0.595, 0.543, 0.630, 0.578, 0.556, 0.590, 0.524, 0.612, 0.570, 0.598, 0.551, 0.586, 0.617, 0.533, 0.574, 0.602],
    [0.581, 0.659, 0.600, 0.477, 0.610, 0.507, 0.537, 0.507, 0.545, 0.538, 0.634, 0.595, 0.541, 0.433, 0.537, 0.498, 0.508, 0.583, 0.583, 0.663, 0.551, 0.644, 0.435, 0.653, 0.525, 0.524, 0.483, 0.581, 0.605, 0.581, 0.528, 0.576, 0.560, 0.592, 0.548, 0.570, 0.600, 0.555, 0.587, 0.565],
    [0.541, 0.452, 0.650, 0.620, 0.510, 0.470, 0.650, 0.593, 0.590, 0.628, 0.562, 0.586, 0.550, 0.605, 0.660, 0.593, 0.494, 0.596, 0.608, 0.559, 0.638, 0.495, 0.638, 0.574, 0.594, 0.693, 0.507, 0.536, 0.569, 0.552, 0.560, 0.557, 0.565, 0.590, 0.583],
    [0.675, 0.585, 0.585, 0.578, 0.578, 0.583, 0.565, 0.576, 0.607, 0.607, 0.687, 0.556, 0.520, 0.560, 0.590, 0.609, 0.654, 0.600, 0.659, 0.411],
]
GP_ALL = [GP_2P, GP_6P, GP_9P, GP_24P, GP_36P, GP_36P_DESPIKE, GP_ACOMPCOR, GP_TCOMPCOR,
          GP_WMLOCAL, GP_WMMEAN, GP_ICA_AROMA, GP_AROMA_GSR]

# Linear fit: value at lowest / highest motion, and CI half-width there
FIT_LEFT = [0.590, 0.612, 0.577, 0.602, 0.567, 0.571, 0.585, 0.592, 0.611, 0.586, 0.578, 0.558]
FIT_RIGHT = [0.638, 0.682, 0.614, 0.668, 0.593, 0.586, 0.611, 0.626, 0.657, 0.621, 0.639, 0.593]
CI_LEFT = [0.0097, 0.0101, 0.0082, 0.0099, 0.0095, 0.0080, 0.0082, 0.0086, 0.0106, 0.0082, 0.0088, 0.0087]
CI_RIGHT = [0.0213, 0.0235, 0.0186, 0.0234, 0.0192, 0.0183, 0.0185, 0.0190, 0.0226, 0.0186, 0.0210, 0.0203]
BAND_PINCH_X = 0.06

X_TICKS = [0.05, 0.10, 0.15, 0.20]
Y_TICKS = [0.4, 0.5, 0.6, 0.7, 0.8, 0.9]
X_RANGE = [0.0072, 0.2064]
Y_RANGE = [0.3125, 0.9275]
R_LABEL_X = 0.1535
R_LABEL_Y = 0.369

# ---------- layout (pixel boxes of each panel) ----------
BOX_LEFT = [88.4, 704.5, 1327.8, 1950.9, 80.4, 705.3, 1331.8, 1950.9, 81.2, 713.5, 1331.8, 1950.9]
BOX_RIGHT = [680.8, 1296.4, 1919.2, 2542.7, 674.1, 1296.4, 1923.7, 2542.7, 671.8, 1305.4, 1923.7, 2543.5]
BOX_TOP = [44.8, 45.9, 45.9, 45.2, 629.8, 628.3, 629.0, 629.0, 1213.2, 1213.2, 1213.2, 1214.2]
BOX_BOTTOM = [579.8, 577.1, 578.6, 578.6, 1162.9, 1162.9, 1162.1, 1162.1, 1745.2, 1746.0, 1746.0, 1746.0]
TITLE_X = [361, 979, 1605, 2254, 377, 1015, 1638, 2263, 395, 997, 1641, 2252]
TITLE_Y = [20, 20, 20, 20, 609, 610, 610, 610, 1190, 1192, 1190, 1192]

LIGHT = "Lato"
BOLD = "Liberation Sans"
LINE_COLOR = "#E8801C"

fig = go.Figure()
annotations = []

for i in range(12):
    n = i + 1
    xs, ys = [], []
    for mg, yg in zip(MOTION_GROUPS, GP_ALL[i]):
        m = min(len(mg), len(yg))
        xs.extend(mg[:m])
        ys.extend(yg[:m])
    xs = np.array(xs)
    ys = np.array(ys)
    xref, yref = f"x{n}", f"y{n}"

    fig.add_trace(go.Scatter(
        x=xs, y=ys, mode="markers", xaxis=xref, yaxis=yref, showlegend=False,
        marker=dict(size=5, color="#111111", line=dict(width=0)), hoverinfo="skip"))

    x_lo, x_hi = float(xs.min()), float(xs.max())
    bx = np.linspace(x_lo, x_hi, 80)
    fit = FIT_LEFT[i] + (FIT_RIGHT[i] - FIT_LEFT[i]) * (bx - x_lo) / (x_hi - x_lo)
    dl = BAND_PINCH_X - x_lo
    dr = x_hi - BAND_PINCH_X
    k = (CI_RIGHT[i] ** 2 - CI_LEFT[i] ** 2) / (dr ** 2 - dl ** 2)
    m2 = max(CI_LEFT[i] ** 2 - k * dl ** 2, 1e-6)
    hw = np.sqrt(m2 + k * (bx - BAND_PINCH_X) ** 2)

    fig.add_trace(go.Scatter(
        x=np.concatenate([bx, bx[::-1]]),
        y=np.concatenate([fit + hw, (fit - hw)[::-1]]),
        mode="lines", fill="toself", fillcolor="rgba(153,153,153,0.4)",
        line=dict(width=0), xaxis=xref, yaxis=yref, showlegend=False, hoverinfo="skip"))
    fig.add_trace(go.Scatter(
        x=bx, y=fit, mode="lines", line=dict(color=LINE_COLOR, width=2.2),
        xaxis=xref, yaxis=yref, showlegend=False, hoverinfo="skip"))

    xdom = [BOX_LEFT[i] / W, BOX_RIGHT[i] / W]
    ydom = [1 - BOX_BOTTOM[i] / H, 1 - BOX_TOP[i] / H]
    common = dict(
        ticks="outside", ticklen=8, tickwidth=2, tickcolor="black",
        showline=True, linecolor="black", linewidth=2.5, mirror=True,
        showgrid=True, gridcolor="#e4e4e4", gridwidth=1.3, zeroline=False,
        tickfont=dict(family=LIGHT, size=29, color="#222222", weight=300),
    )
    fig.layout[f"xaxis{n}"] = dict(
        domain=xdom, range=X_RANGE, anchor=yref, tickmode="array", tickvals=X_TICKS,
        ticktext=[f"{v:.2f}" for v in X_TICKS], showticklabels=(i == 11),
        ticklabelstandoff=-12,
        minor=dict(tickvals=[0.025, 0.075, 0.125, 0.175], showgrid=True,
                   gridcolor="#f1f1f1", gridwidth=1, ticks=""),
        **common)
    fig.layout[f"yaxis{n}"] = dict(
        domain=ydom, range=Y_RANGE, anchor=xref, tickmode="array", tickvals=Y_TICKS,
        ticktext=[f"{v:.1f}" for v in Y_TICKS], showticklabels=(i == 0),
        ticklabelstandoff=1,
        minor=dict(tickvals=[0.35, 0.45, 0.55, 0.65, 0.75, 0.85], showgrid=True,
                   gridcolor="#f1f1f1", gridwidth=1, ticks=""),
        **common)

    annotations.append(dict(
        text=f"<b>{PANELS[i]}</b>", x=TITLE_X[i] / W, y=1 - TITLE_Y[i] / H,
        xref="paper", yref="paper", xanchor="center", yanchor="middle", showarrow=False,
        font=dict(family=BOLD, size=33, color="black")))
    annotations.append(dict(
        text=f"<i>r</i> = {R_LABELS[i]}", x=R_LABEL_X, y=R_LABEL_Y, xref=xref, yref=yref,
        xanchor="left", yanchor="middle", showarrow=False,
        font=dict(family=LIGHT, size=30, color="#222222", weight=300)))

annotations.append(dict(
    text="Global Promiscuity", x=20 / W, y=1 - 285 / H, xref="paper", yref="paper",
    xanchor="center", yanchor="middle", textangle=-90, showarrow=False,
    font=dict(family=LIGHT, size=35, color="#222222", weight=300)))
annotations.append(dict(
    text="Subject Motion", x=2249 / W, y=1 - 1810 / H, xref="paper", yref="paper",
    xanchor="center", yanchor="middle", showarrow=False,
    font=dict(family=LIGHT, size=35, color="#222222", weight=300)))

fig.update_layout(
    width=W, height=H, margin=dict(l=0, r=0, t=0, b=0),
    paper_bgcolor="white", plot_bgcolor="white",
    annotations=annotations, showlegend=False)

fig.write_html("out.html", config={"displayModeBar": False},
               post_script="document.body.style.margin='0';")
